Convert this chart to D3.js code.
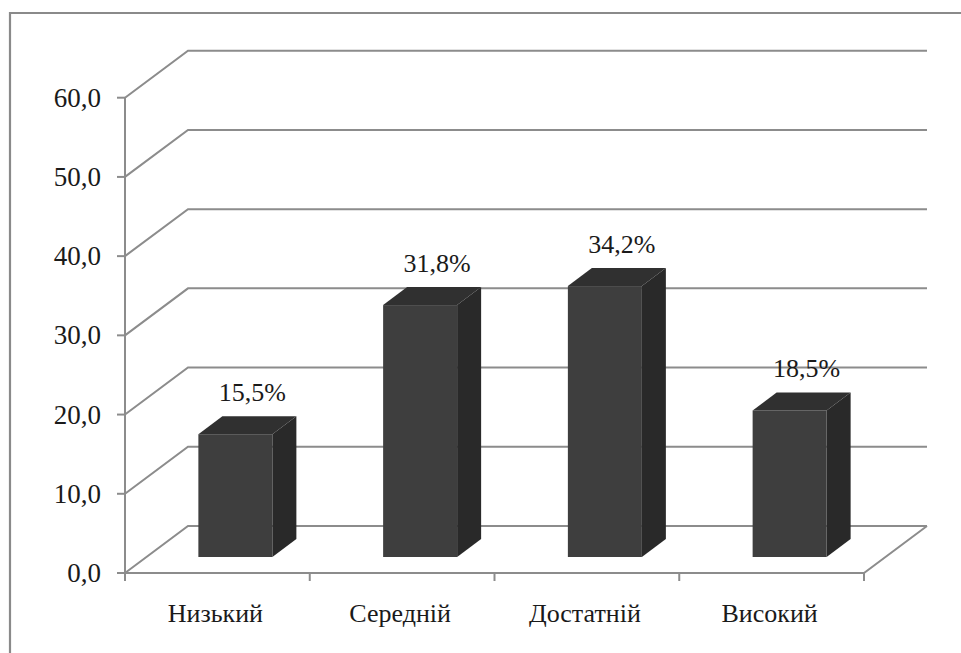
<!DOCTYPE html>
<html>
<head>
<meta charset="utf-8">
<script src="https://cdn.jsdelivr.net/npm/d3@7/dist/d3.min.js"></script>
<style>
  html, body { margin: 0; padding: 0; background: #fff; }
  svg { display: block; }
</style>
</head>
<body>
<svg id="chart" width="961" height="653"></svg>
<script>
// Data
const categories = ["Низький", "Середній", "Достатній", "Високий"];
const values = [15.5, 31.8, 34.2, 18.5];
const valueLabels = ["15,5%", "31,8%", "34,2%", "18,5%"];
const yTicks = [0, 10, 20, 30, 40, 50, 60];

const FONT = "Liberation Serif";
const W = 961, H = 653;

const svg = d3.select("#chart");

// Outer frame (runs off the right and bottom edges)
svg.append("path")
  .attr("d", `M10,${H + 5} L10,13 L${W + 5},13`)
  .attr("fill", "none").attr("stroke", "#8a8a8a").attr("stroke-width", 2.2);

// Plot geometry: front plane and oblique depth offset of the back wall
const x0 = 125, x1 = 864;
const depth = { dx: 63, dy: -47 };
const y = d3.scaleLinear().domain([0, 60]).range([573, 97.7]);
const x = d3.scaleBand().domain(categories).range([x0, x1]).paddingInner(0).paddingOuter(0);

const grid = svg.append("g").attr("fill", "none").attr("stroke", "#8c8c8c").attr("stroke-width", 2);

// Side-wall diagonals and back-wall gridlines
yTicks.forEach(t => {
  const yy = y(t);
  grid.append("path")
    .attr("d", `M${x0},${yy} L${x0 + depth.dx},${yy + depth.dy} L${x1 + depth.dx},${yy + depth.dy}`);
});
// Floor front and right edges
grid.append("path")
  .attr("d", `M${x0},${y(0)} L${x1},${y(0)} L${x1 + depth.dx},${y(0) + depth.dy}`);

// Vertical axis with ticks
const axisG = svg.append("g").attr("fill", "none").attr("stroke", "#8c8c8c").attr("stroke-width", 2);
axisG.append("line").attr("x1", x0).attr("x2", x0).attr("y1", y(60)).attr("y2", y(0) + 1);
yTicks.forEach(t => {
  axisG.append("line").attr("x1", x0 - 8).attr("x2", x0).attr("y1", y(t)).attr("y2", y(t));
});
// Category boundary ticks
const bounds = categories.map(c => x(c)).concat([x1]);
bounds.forEach(b => {
  axisG.append("line").attr("x1", b).attr("x2", b).attr("y1", y(0)).attr("y2", y(0) + 8);
});

const textColor = "#1a1a1a";

// Y tick labels
svg.append("g").selectAll("text").data(yTicks).join("text")
  .attr("x", x0 - 24)
  .attr("y", d => y(d) + 9)
  .attr("text-anchor", "end")
  .attr("font-family", FONT)
  .attr("font-size", 27)
  .attr("fill", textColor)
  .text(d => d3.format(".1f")(d).replace(".", ","));

// Category labels
svg.append("g").selectAll("text").data(categories).join("text")
  .attr("x", d => x(d) + x.bandwidth() / 2 - 2)
  .attr("y", 622)
  .attr("text-anchor", "middle")
  .attr("font-family", FONT)
  .attr("font-size", 26)
  .attr("fill", textColor)
  .text(d => d);

// 3D bars: front face set back into the floor, with a top and right side face
const barW = 74;
const barOff = { dx: 21, dy: -16 };   // front face position inside the floor
const barDepth = { dx: 24, dy: -18 }; // bar thickness
const scaleK = y(0) - y(1);           // pixels per unit

const bars = svg.append("g");
categories.forEach((c, i) => {
  const v = values[i];
  const left = x(c) + (x.bandwidth() - barW) / 2 + barOff.dx - 3;
  const right = left + barW;
  const base = y(0) + barOff.dy;
  const top = base - v * scaleK;
  const g = bars.append("g");
  // side face
  g.append("path")
    .attr("d", `M${right},${base} L${right + barDepth.dx},${base + barDepth.dy} L${right + barDepth.dx},${top + barDepth.dy} L${right},${top} Z`)
    .attr("fill", "#292929");
  // top face
  g.append("path")
    .attr("d", `M${left},${top} L${left + barDepth.dx},${top + barDepth.dy} L${right + barDepth.dx},${top + barDepth.dy} L${right},${top} Z`)
    .attr("fill", "#303030");
  // front face
  g.append("rect")
    .attr("x", left).attr("y", top).attr("width", barW).attr("height", base - top)
    .attr("fill", "#3e3e3e");
  // value label
  g.append("text")
    .attr("x", left + barW / 2 + 17)
    .attr("y", top + barDepth.dy - 15)
    .attr("text-anchor", "middle")
    .attr("font-family", FONT)
    .attr("font-size", 26)
    .attr("fill", textColor)
    .text(valueLabels[i]);
});
</script>
</body>
</html>
